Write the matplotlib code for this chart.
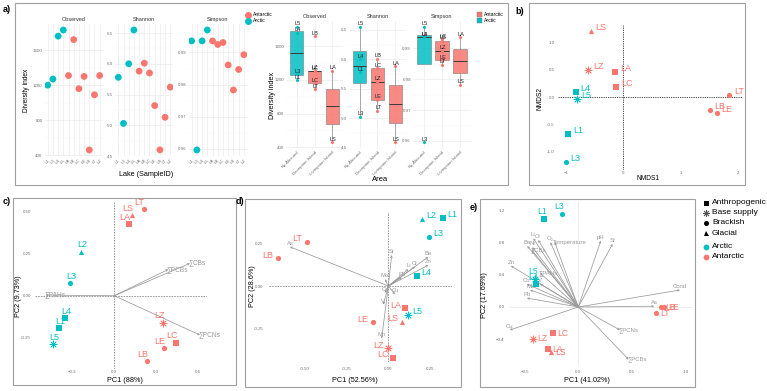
import matplotlib
matplotlib.use('Agg')
import matplotlib.pyplot as plt
from matplotlib.patches import Rectangle
import numpy as np

plt.rcParams['font.family'] = ['Liberation Sans', 'DejaVu Sans']

W, H = 767, 391
RED = '#F8766D'
CYAN = '#00BFC4'
GRID = '#ebebeb'
TICK = '#707070'
ARROW = '#9a9a9a'

# ---- a) alpha diversity ----
LAKES_ALPHA = ['L1', 'L3', 'L4', 'L5', 'LA', 'LB', 'LC', 'LE', 'LS', 'LT', 'LZ']
OBSERVED = [1200, 1270, 1760, 1830, 1310, 1720, 1160, 1300, 460, 1090, 1310]
SHANNON = [5.78, 5.03, 6.00, 6.55, 5.88, 6.01, 5.85, 5.32, 4.60, 5.13, 5.62]
SIMPSON = [0.9936, 0.9596, 0.9936, 0.9970, 0.9936, 0.9925, 0.9931, 0.9861,
           0.9783, 0.9847, 0.9893]
AREAS = ['Ny-Ålesund', 'Deception Island', 'Livingston Island']
LAKE_AREA = {'L1': 'Ny-Ålesund', 'L3': 'Ny-Ålesund', 'L4': 'Ny-Ålesund', 'L5': 'Ny-Ålesund',
             'LB': 'Deception Island', 'LC': 'Deception Island', 'LE': 'Deception Island',
             'LT': 'Deception Island', 'LZ': 'Deception Island',
             'LA': 'Livingston Island', 'LS': 'Livingston Island'}
OBS_TICKS = [400, 800, 1200, 1600]
SHA_TICKS = [4.5, 5.0, 5.5, 6.0, 6.5]
SIM_TICKS = [0.96, 0.97, 0.98, 0.99]

# lake type (shape)
LAKE_TYPE = {'L1': 'Anthropogenic', 'L2': 'Glacial', 'L3': 'Brackish', 'L4': 'Anthropogenic',
             'L5': 'Base supply', 'LA': 'Anthropogenic', 'LB': 'Brackish', 'LC': 'Anthropogenic',
             'LE': 'Brackish', 'LS': 'Glacial', 'LT': 'Brackish', 'LZ': 'Base supply'}
TYPES = ['Anthropogenic', 'Base supply', 'Brackish', 'Glacial']

# ---- b) NMDS ----
LAKES_B = ['L1', 'L3', 'L4', 'L5', 'LA', 'LB', 'LC', 'LE', 'LS', 'LT', 'LZ']
NMDS1 = [-0.96, -1.00, -0.83, -0.81, -0.14, 1.51, -0.12, 1.63, -0.57, 1.85, -0.61]
NMDS2 = [-0.69, -1.19, 0.10, -0.04, 0.47, -0.24, 0.19, -0.30, 1.22, 0.04, 0.49]

# ---- c) PCA organics ----
LAKES_C = ['L1', 'L2', 'L3', 'L4', 'L5', 'LA', 'LB', 'LC', 'LE', 'LS', 'LT', 'LZ']
PC1_C = [-0.397, -0.236, -0.314, -0.354, -0.440, 0.107, 0.231, 0.441, 0.355, 0.126, 0.210, 0.350]
PC2_C = [-0.193, 0.260, 0.073, -0.134, -0.286, 0.425, -0.387, -0.279, -0.312, 0.478, 0.512, -0.160]
VARS_C = ['∑PAHs', '∑PCBs', '∑CBs', '∑PCNs']
LOAD1_C = [-0.49, 0.386, 0.54, 0.612]
LOAD2_C = [0.004, 0.156, 0.192, -0.233]

# ---- d) PCA metals ----
LAKES_D = ['L1', 'L2', 'L3', 'L4', 'L5', 'LA', 'LB', 'LC', 'LE', 'LS', 'LT', 'LZ']
PC1_D = [0.330, 0.200, 0.244, 0.170, 0.116, 0.102, -0.664, 0.026, -0.094, 0.084, -0.490, 0.000]
PC2_D = [0.400, 0.395, 0.290, 0.061, -0.170, -0.132, 0.167, -0.424, -0.215, -0.211, 0.262, -0.369]
VARS_D = ['As', 'Ba', 'Zn', 'Li', 'Cr', 'Sr', 'Mo', 'Pb', 'Co', 'Cu', 'V', 'Mn']
LOAD1_D = [-0.59, 0.24, 0.24, 0.12, 0.16, 0.02, -0.02, 0.08, -0.02, 0.04, -0.03, -0.04]
LOAD2_D = [0.232, 0.173, 0.124, 0.10, 0.115, 0.183, 0.04, 0.05, -0.04, -0.05, -0.11, -0.31]

# ---- e) PCA all ----
LAKES_E = ['L1', 'L3', 'L4', 'L5', 'LA', 'LB', 'LC', 'LE', 'LS', 'LT', 'LZ']
PC1_E = [-0.318, -0.156, -0.400, -0.405, -0.286, 0.770, -0.234, 0.800, -0.258, 0.730, -0.420]
PC2_E = [1.090, 1.155, 0.285, 0.350, -0.520, 0.000, -0.326, 0.000, -0.560, -0.080, -0.390]
VARS_E = ['Li', 'Cr', 'Ba', 'Ni', '∑CBs', 'O₂', 'Temperature', 'pH', 'Sr', 'Cond', 'As',
          'Zn', '∑PAHs', 'V', 'Co', 'Mo', 'Pb', 'Cu', '∑PCNs', '∑PCBs']
LOAD1_E = [-0.42, -0.374, -0.477, -0.43, -0.436, -0.26, -0.22, 0.21, 0.32, 0.95, 0.71,
           -0.63, -0.358, -0.358, -0.48, -0.45, -0.48, -0.64, 0.39, 0.47]
LOAD2_E = [0.85, 0.83, 0.755, 0.74, 0.706, 0.80, 0.80, 0.82, 0.78, 0.21, 0.01,
           0.51, 0.42, 0.285, 0.285, 0.21, 0.11, -0.285, -0.285, -0.65]

MARKERS = {'Anthropogenic': 's', 'Base supply': (8, 2, 0), 'Brackish': 'o', 'Glacial': '^'}

fig = plt.figure(figsize=(W / 100, H / 100), dpi=100)


def px_axes(l, t, r, b):
    return fig.add_axes([l / W, 1 - b / H, (r - l) / W, (b - t) / H])


def ftext(x, y, s, **kw):
    fig.text(x / W, 1 - y / H, s, **kw)


def frame(l, t, r, b):
    fig.add_artist(Rectangle((l / W, 1 - b / H), (r - l) / W, (b - t) / H,
                             transform=fig.transFigure, fill=False, ec='#a0a0a0', lw=0.8))


def color_of(lake):
    return CYAN if lake[1].isdigit() else RED


def expand(vals, f=0.05):
    lo, hi = min(vals), max(vals)
    d = (hi - lo) * f
    return lo - d, hi + d


def minimal(ax):
    for s in ax.spines.values():
        s.set_visible(False)
    ax.tick_params(length=0, labelsize=3.2, colors=TICK, pad=1.5)


# frames
frame(15, 3, 508, 185)
frame(529, 3, 745, 185)
frame(13, 198, 236, 385)
frame(245, 199, 461, 387)
frame(480, 199, 695, 387)
ftext(3, 9, 'a)', fontsize=6.5, fontweight='bold', va='center')
ftext(515, 11, 'b)', fontsize=6.5, fontweight='bold', va='center')
ftext(3, 202, 'c)', fontsize=6.5, fontweight='bold', va='center')
ftext(236, 201, 'd)', fontsize=6.5, fontweight='bold', va='center')
ftext(470, 207, 'e)', fontsize=6.5, fontweight='bold', va='center')

# ---------- a) scatter facets ----------
metrics = [('Observed', OBSERVED, OBS_TICKS, '{:.0f}'),
           ('Shannon', SHANNON, SHA_TICKS, '{:.1f}'),
           ('Simpson', SIMPSON, SIM_TICKS, '{:.2f}')]
scat_x = [(44.6, 102.8), (115.2, 173.4), (188.5, 247.0)]
xs = np.arange(1, len(LAKES_ALPHA) + 1)
for (name, vals, ticks, fmt), (l, r) in zip(metrics, scat_x):
    ax = px_axes(l, 24, r, 156)
    minimal(ax)
    ax.scatter(xs, vals, s=24, c=[color_of(k) for k in LAKES_ALPHA], linewidths=0, zorder=3)
    ax.set_xlim(0.4, len(LAKES_ALPHA) + 0.6)
    ax.set_ylim(*expand(vals))
    ax.set_xticks(xs)
    ax.set_xticklabels(LAKES_ALPHA, rotation=45, ha='right', rotation_mode='anchor')
    ax.set_yticks(ticks)
    ax.set_yticklabels([fmt.format(t) for t in ticks])
    ax.set_yticks([(a + b) / 2 for a, b in zip(ticks[:-1], ticks[1:])], minor=True)
    ax.tick_params(which='minor', length=0)
    ax.grid(which='major', color=GRID, lw=0.5)
    ax.grid(which='minor', axis='y', color='#f4f4f4', lw=0.3)
    ax.set_axisbelow(True)
    ax.set_title(name, fontsize=4, pad=2, color='#333333')
ftext(26, 90, 'Diversity index', fontsize=4.8, rotation=90, ha='center', va='center')
ftext(146, 174, 'Lake (SampleID)', fontsize=5.2, ha='center', va='center')
for i, (lab, col) in enumerate([('Antarctic', RED), ('Arctic', CYAN)]):
    fig.add_artist(plt.Line2D([248 / W], [1 - (15 + 6 * i) / H], marker='o', ms=4,
                              color=col, lw=0, transform=fig.transFigure))
    ftext(253, 15 + 6 * i, lab, fontsize=3.6, va='center')

# ---------- a) boxplot facets ----------
box_x = [(286, 343), (349, 406), (413, 471)]
for (name, vals, ticks, fmt), (l, r) in zip(metrics, box_x):
    ax = px_axes(l, 21, r, 148)
    minimal(ax)
    groups = [[v for k, v in zip(LAKES_ALPHA, vals) if LAKE_AREA[k] == a] for a in AREAS]
    bp = ax.boxplot(groups, positions=[1, 2, 3], widths=0.75, patch_artist=True,
                    showfliers=False, showcaps=False,
                    medianprops=dict(color='#3a3a3a', lw=0.7),
                    whiskerprops=dict(color='#8a8a8a', lw=0.5),
                    boxprops=dict(lw=0.4))
    for patch, a in zip(bp['boxes'], AREAS):
        patch.set_facecolor(CYAN if a == 'Ny-Ålesund' else RED)
        patch.set_alpha(0.85)
        patch.set_edgecolor('#6a6a6a')
    for k, v in zip(LAKES_ALPHA, vals):
        p = AREAS.index(LAKE_AREA[k]) + 1
        ax.scatter(p, v, s=5, color=color_of(k), linewidths=0, zorder=4)
        ax.annotate(k, (p, v), xytext=(0.5, 2), textcoords='offset points',
                    fontsize=4.1, ha='center', va='center', color='#222222', zorder=5)
    ax.set_xlim(0.4, 3.6)
    ax.set_ylim(*expand(vals))
    ax.set_xticks([1, 2, 3])
    ax.set_xticklabels(AREAS, rotation=45, ha='right', rotation_mode='anchor')
    ax.set_yticks(ticks)
    ax.set_yticklabels([fmt.format(t) for t in ticks])
    ax.set_yticks([(a + b) / 2 for a, b in zip(ticks[:-1], ticks[1:])], minor=True)
    ax.tick_params(which='minor', length=0)
    ax.grid(which='major', color=GRID, lw=0.5)
    ax.grid(which='minor', axis='y', color='#f4f4f4', lw=0.3)
    ax.set_axisbelow(True)
    ax.set_title(name, fontsize=4, pad=2, color='#333333')
ftext(273, 95, 'Diversity index', fontsize=5.2, rotation=90, ha='center', va='center')
ftext(380, 180, 'Area', fontsize=5.5, ha='center', va='center')
for i, (lab, col) in enumerate([('Antarctic', RED), ('Arctic', CYAN)]):
    fig.add_artist(Rectangle((477 / W, 1 - (16.5 + 6 * i) / H), 5 / W, 5 / H,
                             transform=fig.transFigure, fc=col, ec='#777777', lw=0.3))
    ftext(483.5, 14 + 6 * i, lab, fontsize=3.6, va='center')


# ---------- ordination helpers ----------
def ord_points(ax, lakes, px, py, offsets, size=14, fs=6.5):
    for k, x, y in zip(lakes, px, py):
        col = color_of(k)
        m = MARKERS[LAKE_TYPE[k]]
        if LAKE_TYPE[k] == 'Base supply':
            ax.scatter(x, y, marker=m, s=size * 1.8, color=col, linewidths=0.6, zorder=4)
        else:
            ax.scatter(x, y, marker=m, s=size, color=col, linewidths=0, zorder=4)
        dx, dy, ha = offsets(k)
        ax.annotate(k, (x, y), xytext=(dx, dy), textcoords='offset points', fontsize=fs,
                    ha=ha, va='center', color=col, zorder=5)


def loadings(ax, names, lx, ly, fs=4.2):
    for n, x, y in zip(names, lx, ly):
        ax.annotate('', xy=(x, y), xytext=(0, 0),
                    arrowprops=dict(arrowstyle='->', color=ARROW, lw=0.55,
                                    mutation_scale=3, shrinkA=0, shrinkB=0), zorder=2)
        if n.startswith('∑') or n == 'Temperature':
            ax.annotate(n, (x, y), xytext=(-1, 0), textcoords='offset points', fontsize=fs,
                        ha='left', va='center', color=ARROW, zorder=3)
        else:
            ax.annotate(n, (x, y), xytext=(0, 2.5), textcoords='offset points', fontsize=fs,
                        ha='center', va='center', color=ARROW, zorder=3)


# ---------- b) NMDS ----------
ax = px_axes(558, 25, 742, 170)
minimal(ax)
ax.set_xlim(-1.14, 2.07)
ax.set_ylim(-1.345, 1.327)
ax.axhline(0, color='#333333', lw=0.6, ls=(0, (1.5, 1.2)))
ax.axvline(0, color='#333333', lw=0.6, ls=(0, (1.5, 1.2)))
ord_points(ax, LAKES_B, NMDS1, NMDS2, lambda k: (3.2, 2.5, 'left'))
ax.set_xticks([-1, 0, 1, 2])
ax.set_yticks([-1.0, -0.5, 0.0, 0.5, 1.0])
ax.set_yticklabels(['-1.0', '-0.5', '0.0', '0.5', '1.0'])
ax.tick_params(axis='y', pad=2.5)
ax.tick_params(axis='x', pad=1)
ftext(648, 179, 'NMDS1', fontsize=4.8, ha='center', va='center')
ftext(540, 98, 'NMDS2', fontsize=4.8, rotation=90, ha='center', va='center')

# ---------- c) PCA ----------
ax = px_axes(35, 201.7, 207, 369)
minimal(ax)
ax.set_xlim(-0.566, 0.662)
ax.set_ylim(-0.434, 0.557)
ax.axhline(0, color='#8a8a8a', lw=0.6, ls=(0, (2, 1.2)))
ax.axvline(0, color='#8a8a8a', lw=0.6, ls=(0, (2, 1.2)))
loadings(ax, VARS_C, LOAD1_C, LOAD2_C, fs=4.8)
ord_points(ax, LAKES_C, PC1_C, PC2_C,
           lambda k: (1, 5, 'center') if k[1].isdigit() else (-3, 5, 'center'))
ax.set_xticks([-0.3, 0.0, 0.3, 0.6])
ax.set_yticks([-0.25, 0.0, 0.25, 0.5])
ax.set_yticklabels(['-0.25', '0.00', '0.25', '0.50'])
ax.tick_params(axis='y', pad=3)
ax.tick_params(axis='x', pad=1)
ftext(125, 381, 'PC1 (88%)', fontsize=5.2, ha='center', va='center')
ftext(19, 296, 'PC2 (9.73%)', fontsize=5.2, rotation=90, ha='center', va='center')

# ---------- d) PCA ----------
ax = px_axes(269.3, 211.7, 451.7, 361.7)
minimal(ax)
ax.set_xlim(-0.714, 0.38)
ax.set_ylim(-0.448, 0.44)
ax.axhline(0, color='#8a8a8a', lw=0.6, ls=(0, (2, 1.2)))
ax.axvline(0, color='#8a8a8a', lw=0.6, ls=(0, (2, 1.2)))
loadings(ax, VARS_D, LOAD1_D, LOAD2_D, fs=4.2)
ord_points(ax, LAKES_D, PC1_D, PC2_D,
           lambda k: (3, 2.5, 'left') if k[1].isdigit() else (-3, 2, 'right'))
ax.set_xticks([-0.5, -0.25, 0.0, 0.25])
ax.set_xticklabels(['-0.50', '-0.25', '0.00', '0.25'])
ax.set_yticks([-0.25, 0.0, 0.25])
ax.set_yticklabels(['-0.25', '0.00', '0.25'])
ax.tick_params(axis='x', pad=3.5)
ax.tick_params(axis='y', pad=4)
ftext(355, 381, 'PC1 (52.56%)', fontsize=5.2, ha='center', va='center')
ftext(252, 286, 'PC2 (28.6%)', fontsize=5.2, rotation=90, ha='center', va='center')

# ---------- e) PCA ----------
ax = px_axes(509, 202, 692, 366)
minimal(ax)
ax.set_xlim((509 - 578.3) / 107, (692 - 578.3) / 107)
ax.set_ylim((307 - 366) / 80.8, (307 - 202) / 80.8)
ax.axhline(0, color='#e6e6e6', lw=0.5)
ax.axvline(0, color='#e6e6e6', lw=0.5)
loadings(ax, VARS_E, LOAD1_E, LOAD2_E, fs=4.3)
ord_points(ax, LAKES_E, PC1_E, PC2_E,
           lambda k: (-1.5, 5, 'center') if k[1].isdigit() else (3, 0, 'left'), fs=6.2)
ax.set_xticks([-0.5, 0.0, 0.5, 1.0])
ax.set_yticks([-0.4, 0.0, 0.4, 0.8, 1.2])
ax.tick_params(axis='x', pad=3)
ax.tick_params(axis='y', pad=3)
ftext(587, 381, 'PC1 (41.02%)', fontsize=5.2, ha='center', va='center')
ftext(485, 295, 'PC2 (17.69%)', fontsize=5.2, rotation=90, ha='center', va='center')

# ---------- shared legend ----------
for i, t in enumerate(TYPES):
    y = 202.5 + 10.2 * i
    m = MARKERS[t]
    if t == 'Base supply':
        fig.add_artist(plt.Line2D([706 / W], [1 - y / H], marker=m, ms=5, mew=0.6,
                                  color='#555555', lw=0, transform=fig.transFigure))
    else:
        fig.add_artist(plt.Line2D([706 / W], [1 - y / H], marker=m, ms=3.6, mew=0,
                                  color='black', lw=0, transform=fig.transFigure))
    ftext(712, y, t, fontsize=6.0, va='center')
for i, (lab, col) in enumerate([('Arctic', CYAN), ('Antarctic', RED)]):
    y = 246.7 + 10 * i
    fig.add_artist(plt.Line2D([706 / W], [1 - y / H], marker='o', ms=4.2, mew=0,
                              color=col, lw=0, transform=fig.transFigure))
    ftext(712, y, lab, fontsize=6.0, va='center')

fig.savefig('out.png', dpi=100)
